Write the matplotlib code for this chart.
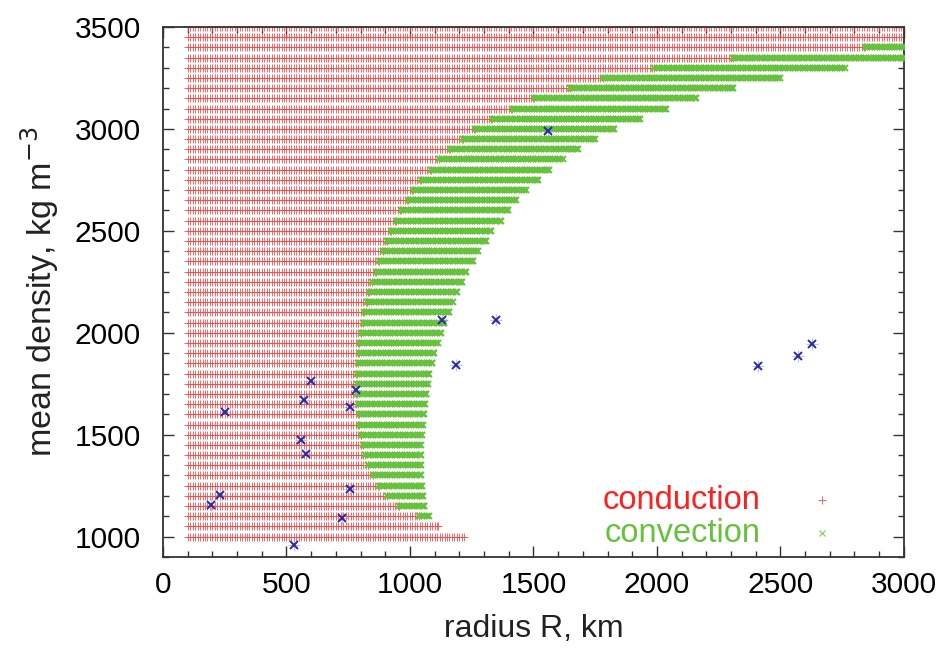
import numpy as np
import matplotlib
matplotlib.use("Agg")
import matplotlib.pyplot as plt
from matplotlib.ticker import MultipleLocator

plt.rcParams['font.family'] = ['Liberation Sans', 'DejaVu Sans']

# model grid: mean density rows (kg m^-3)
density = [1000, 1050, 1100, 1150, 1200, 1250, 1300, 1350, 1400, 1450,
           1500, 1550, 1600, 1650, 1700, 1750, 1800, 1850, 1900, 1950,
           2000, 2050, 2100, 2150, 2200, 2250, 2300, 2350, 2400, 2450,
           2500, 2550, 2600, 2650, 2700, 2750, 2800, 2850, 2900, 2950,
           3000, 3050, 3100, 3150, 3200, 3250, 3300, 3350, 3400, 3450, 3500]
# radius where conduction stops (onset of convection, or end of model row)
cond_end = [1220, 1112, 1038, 957, 909, 876, 849, 832, 819, 808,
            801, 795, 792, 788, 785, 785, 785, 788, 792, 795,
            801, 808, 815, 824, 835, 847, 862, 873, 889, 905,
            923, 943, 963, 993, 1013, 1045, 1085, 1119, 1162, 1213,
            1263, 1334, 1413, 1504, 1646, 1780, 1990, 2307, 2842, 3000, 3000]
# radius where convecting models end (None = no convection in that row)
conv_end = [None, None, 1078, 1058, 1051, 1048, 1045, 1045, 1045, 1045,
            1048, 1051, 1058, 1062, 1066, 1071, 1078, 1090, 1098, 1112,
            1126, 1139, 1157, 1173, 1192, 1210, 1227, 1254, 1274, 1308,
            1328, 1369, 1396, 1430, 1470, 1517, 1565, 1619, 1680, 1750,
            1828, 1930, 2038, 2157, 2307, 2497, 2760, 3000, 3000, None, None]
R_min = 100
R_step = 10

# observed bodies (blue)
obj_R = [1557, 1130, 1349, 1188, 2408, 2570, 2627, 599, 781, 572,
         250, 756, 558, 578, 756, 230, 193, 726, 531]
obj_rho = [2990, 2065, 2065, 1843, 1838, 1884, 1946, 1761, 1720, 1668,
           1611, 1636, 1472, 1406, 1236, 1204, 1155, 1092, 958]

RED = '#ff4848'
GREEN = '#66c23c'
BLUE = '#2b2b9c'

fig = plt.figure(figsize=(9.39, 6.48), dpi=100)
ax = fig.add_axes([0.1736, 0.1404, 0.789, 0.818])

for rho, ce, ve in zip(density, cond_end, conv_end):
    rr = np.arange(R_min, ce, R_step, dtype=float)
    rr = np.append(rr, ce)
    ax.plot(rr, np.full_like(rr, rho), linestyle='none', marker='+',
            ms=5.5, mew=0.7, color=RED, alpha=0.85, zorder=2)
    if ve is not None:
        gg = np.arange(ce, ve, R_step, dtype=float)
        gg = np.append(gg, ve)
        ax.plot(gg, np.full_like(gg, rho), linestyle='none', marker='x',
                ms=5.0, mew=1.4, color=GREEN, zorder=3)

ax.plot(obj_R, obj_rho, linestyle='none', marker='+', ms=8, mew=0.8,
        color='#9a9ad8', alpha=0.6, zorder=4)
ax.plot(obj_R, obj_rho, linestyle='none', marker='x', ms=5.5, mew=1.4,
        color=BLUE, zorder=5)

ax.set_xlim(0, 3000)
ax.set_ylim(900, 3500)
ax.xaxis.set_major_locator(MultipleLocator(500))
ax.xaxis.set_minor_locator(MultipleLocator(100))
ax.yaxis.set_major_locator(MultipleLocator(500))
ax.yaxis.set_minor_locator(MultipleLocator(100))
ax.tick_params(which='both', direction='in', top=True, right=True,
               color='#333333', width=1.0)
ax.tick_params(which='major', length=8, labelsize=21.5)
ax.tick_params(which='minor', length=4)
ax.tick_params(axis='x', which='major', pad=10)
ax.tick_params(axis='y', which='major', pad=16)
for s in ax.spines.values():
    s.set_color('#333333')
    s.set_linewidth(1.3)

ax.set_xlabel('radius R, km', fontsize=23, labelpad=11, color='#222222')
ax.set_ylabel('mean density, kg m$^{-3}$', fontsize=24.5, labelpad=10, color='#222222')

ax.text(0.806, 0.1075, 'conduction', transform=ax.transAxes, ha='right',
        va='center', fontsize=23.5, color='#ff1f1f')
ax.text(0.806, 0.045, 'convection', transform=ax.transAxes, ha='right',
        va='center', fontsize=23.5, color=GREEN)
ax.plot([0.889], [0.1075], transform=ax.transAxes, marker='+', ms=6,
        mew=0.7, color='#ff6060', linestyle='none')
ax.plot([0.889], [0.045], transform=ax.transAxes, marker='x', ms=5,
        mew=0.8, color='#80c860', linestyle='none')

fig.savefig('out.png', dpi=100)
